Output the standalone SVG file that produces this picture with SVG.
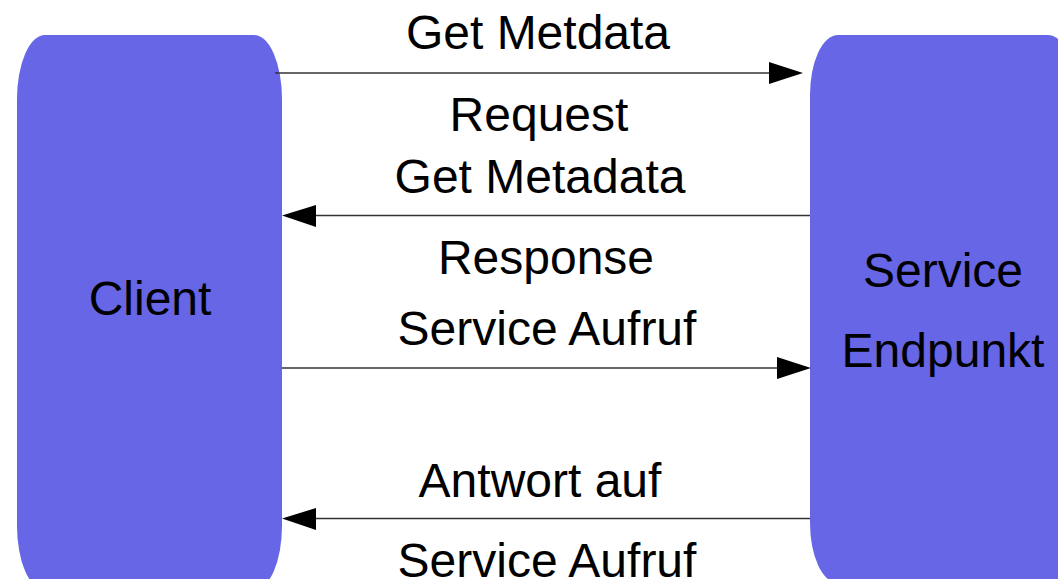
<svg xmlns="http://www.w3.org/2000/svg" width="1058" height="579" viewBox="0 0 1058 579">
  <style>
    .box { fill: #6666e6; }
    .lbl { font-family: "Liberation Sans", Arial, sans-serif; font-size: 48px; fill: #000; text-anchor: middle; }
    .msg { stroke: #333; stroke-width: 1.4; fill: none; }
    .head { fill: #000; }
  </style>
  <rect width="1058" height="579" fill="#fff"/>

  <g id="client">
    <rect class="box" x="17" y="35" width="265" height="555" rx="28" ry="64"/>
    <text class="lbl" x="150" y="315">Client</text>
  </g>

  <g id="service-endpoint">
    <rect class="box" x="810" y="35" width="266" height="548" rx="28" ry="60"/>
    <text class="lbl" x="943" y="287">Service</text>
    <text class="lbl" x="943" y="367">Endpunkt</text>
  </g>

  <g id="connectors">
    <!-- client -> endpoint: metadata request -->
    <line class="msg" x1="275" y1="73" x2="770" y2="73"/>
    <polygon class="head" points="803,73 769,62 769,84"/>
    <!-- endpoint -> client: metadata response -->
    <line class="msg" x1="810" y1="215.5" x2="315" y2="215.5"/>
    <polygon class="head" points="282,215.5 316,205 316,227"/>
    <!-- client -> endpoint: service call -->
    <line class="msg" x1="282" y1="368" x2="778" y2="368"/>
    <polygon class="head" points="811,368 777,357 777,379"/>
    <!-- endpoint -> client: reply -->
    <line class="msg" x1="810" y1="518.5" x2="315" y2="518.5"/>
    <polygon class="head" points="282,518.5 316,508 316,530"/>

    <text class="lbl" x="538" y="49">Get Metdata</text>
    <text class="lbl" x="539" y="131">Request</text>
    <text class="lbl" x="540" y="193">Get Metadata</text>
    <text class="lbl" x="546" y="274">Response</text>
    <text class="lbl" x="547" y="345">Service Aufruf</text>
    <text class="lbl" x="540" y="497">Antwort auf</text>
    <text class="lbl" x="547" y="577">Service Aufruf</text>
  </g>
</svg>
